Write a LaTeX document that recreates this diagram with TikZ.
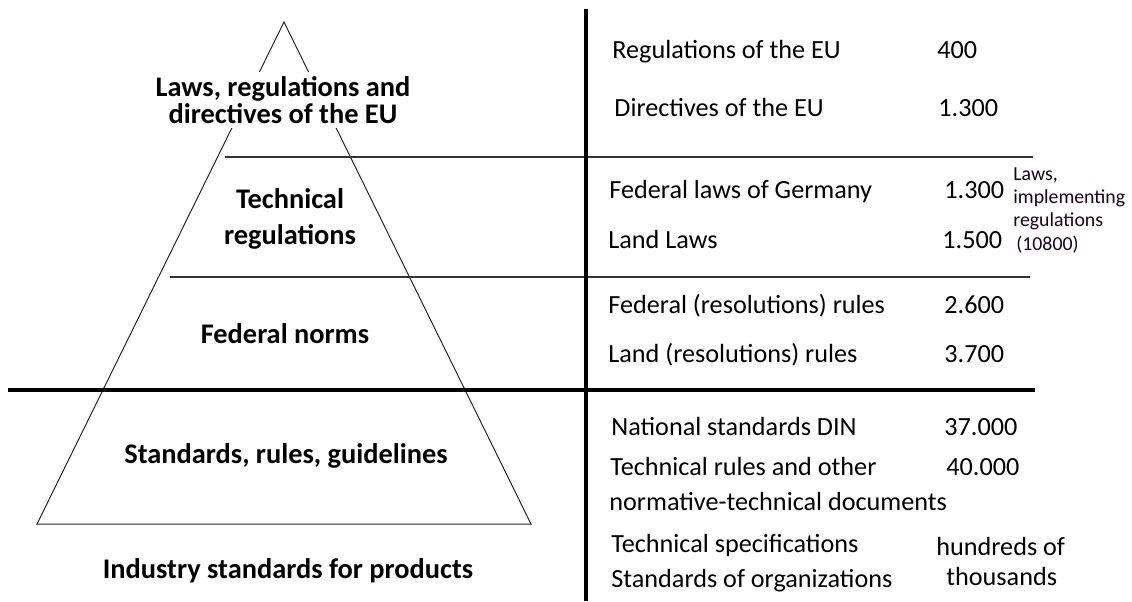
\documentclass[tikz,border=0pt]{standalone}
\usepackage{fontspec}
\setmainfont{Carlito}
\begin{document}
\begin{tikzpicture}[x=0.5pt, y=-0.5pt,
        level/.style={font=\fontsize{14.2}{13.6}\selectfont\bfseries, align=center, text=black},
        item/.style={font=\fontsize{13.1}{16}\selectfont, anchor=base west, inner sep=0pt},
        note/.style={font=\fontsize{9.9}{11.5}\selectfont, anchor=base west, inner sep=0pt, text=black!80!violet}]
            \useasboundingbox (0, 0) rectangle (1132, 601);

            % pyramid
            \coordinate (top) at (284, 22);
            \coordinate (bl) at (37, 524);
            \coordinate (br) at (531, 524);
            \draw[line width=0.5pt, black!85] (bl) -- (top) -- (br) -- cycle;

            % separators
            \draw[line width=0.75pt, black!80] (225, 157) -- (1033, 157);
            \draw[line width=0.75pt, black!80] (170, 277) -- (1030, 277);
            \draw[line width=2pt] (8, 390) -- (1035, 390);
            \draw[line width=2.2pt] (586, 9) -- (586, 601);

            % levels of the pyramid
            \node[level, fill=white, inner sep=2pt] (eu) at (283, 100) {Laws, regulations and\\directives of the EU};
            \node[level] (tech) at (290, 219) {Technical\\[4pt]regulations};
            \node[level] (fed) at (285, 334) {Federal norms};
            \node[level] (std) at (286, 456) {Standards, rules, guidelines};
            \node[level] (ind) at (288, 571) {Industry standards for products};

            % right column
            \node[item] (r1) at (612, 58) {Regulations of the EU};
            \node[item] (n1) at (937, 58) {400};
            \node[item] (r2) at (614, 116) {Directives of the EU};
            \node[item] (n2) at (938, 116) {1.300};
            \node[item] (r3) at (609, 198) {Federal laws of Germany};
            \node[item] (n3) at (944, 198) {1.300};
            \node[item] (r4) at (608, 248) {Land Laws};
            \node[item] (n4) at (942, 248) {1.500};
            \node[note] (m1) at (1013, 180) {Laws,};
            \node[note] (m2) at (1013, 203) {implementing};
            \node[note] (m3) at (1013, 226) {regulations};
            \node[note] (m4) at (1016, 250) {(10800)};
            \node[item] (r5) at (608, 313) {Federal (resolutions) rules};
            \node[item] (n5) at (944, 313) {2.600};
            \node[item] (r6) at (608, 362) {Land (resolutions) rules};
            \node[item] (n6) at (944, 362) {3.700};
            \node[item] (r7) at (611, 435) {National standards DIN};
            \node[item] (n7) at (944, 435) {37.000};
            \node[item] (r8) at (610, 475) {Technical rules and other};
            \node[item] (n8) at (946, 475) {40.000};
            \node[item] (r9) at (609, 510) {normative-technical documents};
            \node[item] (r10) at (611, 552) {Technical specifications};
            \node[item] (r11) at (611, 587) {Standards of organizations};
            \node[item] (n10) at (936, 555) {hundreds of};
            \node[item] (n11) at (946, 585) {thousands};
        \end{tikzpicture}
\end{document}
